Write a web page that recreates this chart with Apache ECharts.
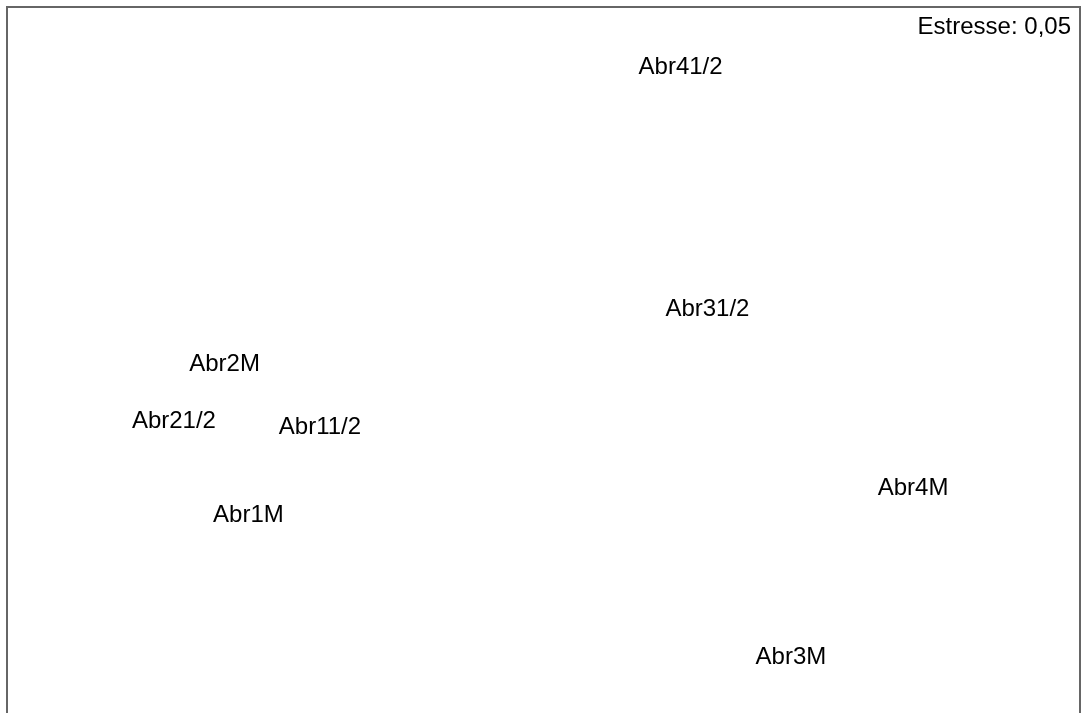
<!DOCTYPE html>
<html>
<head>
<meta charset="utf-8">
<script src="https://cdn.jsdelivr.net/npm/echarts@6/dist/echarts.min.js"></script>
<style>
  html, body { margin: 0; padding: 0; background: #fff; }
  #main { width: 1084px; height: 713px; }
</style>
</head>
<body>
<div id="main"></div>
<script>
// nMDS sample labels and their ordination coordinates
var sampleNames = ['Abr41/2', 'Abr31/2', 'Abr2M', 'Abr21/2', 'Abr11/2', 'Abr4M', 'Abr1M', 'Abr3M'];
var dim1 = [0.46, 0.55, -1.07, -1.24, -0.75, 1.24, -0.99, 0.83];
var dim2 = [1.00, 0.20, 0.02, -0.17, -0.19, -0.39, -0.48, -0.95];
var stressText = 'Estresse: 0,05';

var chart = echarts.init(document.getElementById('main'));

var points = [];
for (var i = 0; i < sampleNames.length; i++) {
    points.push({ name: sampleNames[i], value: [dim1[i], dim2[i]] });
}

var option = {
    backgroundColor: '#fff',
    animation: false,
    grid: {
        left: 7,
        top: 7,
        width: 1073,
        height: 726,   // frame runs past the bottom edge of the picture
        outerBoundsMode: 'none',
        show: true,
        borderColor: '#666',
        borderWidth: 2,
        backgroundColor: '#fff'
    },
    xAxis: {
        type: 'value',
        min: -1.8,
        max: 1.8,
        show: false
    },
    yAxis: {
        type: 'value',
        min: -1.2,
        max: 1.2,
        show: false
    },
    graphic: [
        {
            type: 'text',
            right: 13,
            top: 15,
            style: {
                text: stressText,
                fontFamily: 'Liberation Sans, Arial, sans-serif',
                fontSize: 24,
                fill: '#000'
            }
        }
    ],
    series: [
        {
            type: 'scatter',
            symbolSize: 1,
            itemStyle: { color: '#fff', opacity: 1 },
            emphasis: { disabled: true },
            data: points,
            label: {
                show: true,
                position: 'inside',
                formatter: '{b}',
                fontFamily: 'Liberation Sans, Arial, sans-serif',
                fontSize: 24,
                color: '#000',
                textBorderWidth: 0,
                opacity: 1
            }
        }
    ]
};

chart.setOption(option);
</script>
</body>
</html>
